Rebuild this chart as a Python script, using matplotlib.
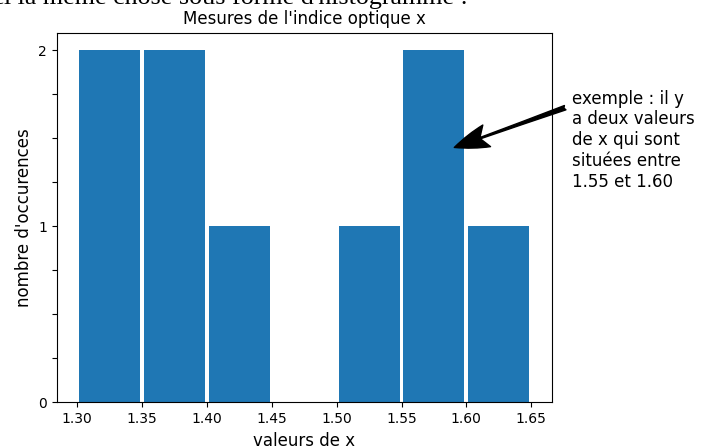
import numpy as np
import matplotlib
matplotlib.use('Agg')
import matplotlib.pyplot as plt

# histogramme des mesures de l'indice optique
bin_edges = [1.30, 1.35, 1.40, 1.45, 1.50, 1.55, 1.60, 1.65]
counts = [2, 2, 1, 0, 1, 2, 1]
xticks = [1.30, 1.35, 1.40, 1.45, 1.50, 1.55, 1.60, 1.65]
yticks = [0, 1, 2]

centers = [(a + b) / 2 for a, b in zip(bin_edges[:-1], bin_edges[1:])]

fig = plt.figure(figsize=(7.14, 4.46), dpi=100)
ax = fig.add_axes([0.0794, 0.098, 0.6934, 0.8287])

ax.hist(centers, bins=bin_edges, weights=counts, rwidth=0.94, color='#1f77b4')

ax.set_xticks(xticks)
ax.set_xticklabels(['%.2f' % v for v in xticks])
ax.set_yticks(yticks)
ax.set_yticks(np.arange(0, 2.01, 0.25), minor=True)
ax.tick_params(axis='y', which='minor', length=3.5, width=0.8)

ax.set_title("Mesures de l'indice optique x", fontsize=12)
ax.set_xlabel('valeurs de x', fontsize=12)
ax.set_ylabel("nombre d'occurences", fontsize=12)

ax.annotate('', xy=(1.5907, 1.448), xytext=(1.6762, 1.674),
            annotation_clip=False,
            arrowprops=dict(arrowstyle='fancy,head_length=0.45,head_width=0.3,tail_width=0.06',
                            mutation_scale=55, color='black', shrinkA=0, shrinkB=0))
ax.text(1.6815, 1.777, 'exemple : il y\na deux valeurs\nde x qui sont\nsituées entre\n1.55 et 1.60',
        fontsize=12, va='top', ha='left', clip_on=False)

# bout de texte du document coupé en haut
fig.text(468 / 714, 1 - 4 / 446, "Voici la même chose sous forme d'histogramme :",
         ha='right', va='baseline', fontsize=18.7, family='Liberation Serif')

fig.savefig('out.png', dpi=100)
